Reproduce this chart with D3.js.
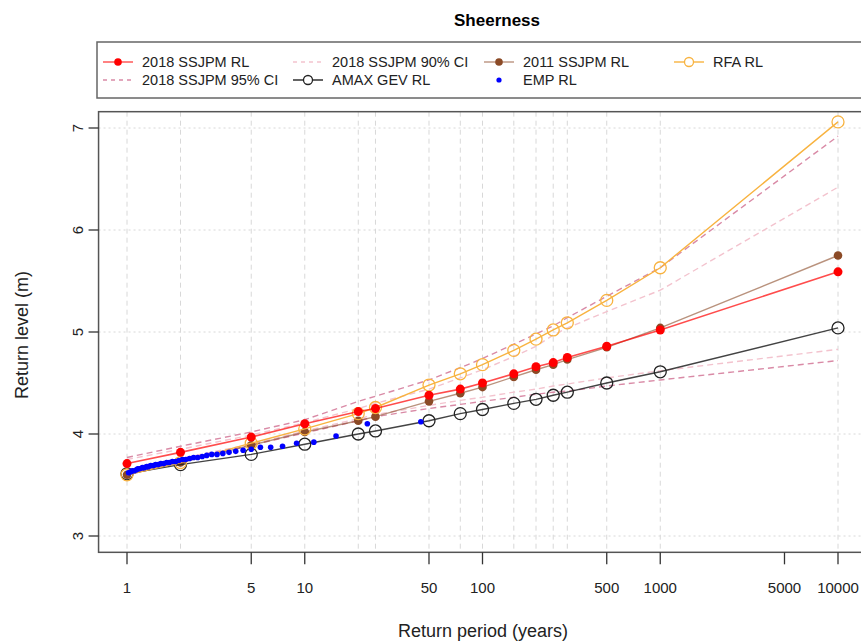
<!DOCTYPE html>
<html>
<head>
<meta charset="utf-8">
<script src="https://cdn.jsdelivr.net/npm/d3@7"></script>
<style>
  body { margin: 0; background: #fff; }
  svg { display: block; font-family: "Liberation Sans", Arial, sans-serif; }
</style>
</head>
<body>
<svg id="chart" width="861" height="641"></svg>
<script>
// return periods (years) shared by the model curves
const periods = [1, 2, 5, 10, 20, 25, 50, 75, 100, 150, 200, 250, 300, 500, 1000, 10000]

const rl2018 = [3.71, 3.82, 3.97, 4.10, 4.22, 4.25, 4.38, 4.44, 4.50, 4.59, 4.66, 4.70, 4.75, 4.86, 5.02, 5.59]
const upper95 = [3.77, 3.88, 4.02, 4.14, 4.32, 4.37, 4.53, 4.65, 4.74, 4.88, 4.98, 5.06, 5.14, 5.35, 5.63, 6.92]
const lower95 = [3.63, 3.74, 3.89, 4.01, 4.13, 4.17, 4.25, 4.29, 4.32, 4.36, 4.39, 4.41, 4.42, 4.47, 4.53, 4.72]
const upper90 = [3.75, 3.85, 3.99, 4.11, 4.25, 4.30, 4.44, 4.55, 4.63, 4.76, 4.86, 4.97, 5.04, 5.20, 5.41, 6.42]
const lower90 = [3.65, 3.76, 3.90, 4.03, 4.15, 4.19, 4.28, 4.33, 4.36, 4.41, 4.44, 4.47, 4.49, 4.55, 4.62, 4.83]
const rl2011 = [3.60, 3.72, 3.89, 4.02, 4.13, 4.17, 4.32, 4.40, 4.46, 4.56, 4.63, 4.68, 4.73, 4.85, 5.04, 5.75]
const amaxGev = [3.61, 3.70, 3.80, 3.90, 4.00, 4.03, 4.13, 4.20, 4.24, 4.30, 4.34, 4.38, 4.41, 4.50, 4.61, 5.04]
const rfa = [3.60, 3.72, 3.91, 4.05, 4.20, 4.26, 4.48, 4.59, 4.68, 4.82, 4.93, 5.02, 5.09, 5.31, 5.63, 7.06]

// empirical annual maxima
const empPeriods = [45, 22.5, 15, 11.25, 9, 7.5, 6.43, 5.63, 5, 4.5, 4.09, 3.75, 3.46, 3.21, 3, 2.81,
  2.65, 2.5, 2.37, 2.25, 2.14, 2.05, 1.96, 1.88, 1.8, 1.73, 1.67, 1.61, 1.55, 1.5, 1.45, 1.41,
  1.36, 1.32, 1.29, 1.25, 1.22, 1.18, 1.15, 1.13, 1.1, 1.07, 1.05, 1.02]
const empLevels = [4.12, 4.10, 3.98, 3.92, 3.91, 3.88, 3.87, 3.87, 3.85, 3.84, 3.83, 3.82, 3.81, 3.80, 3.80, 3.79,
  3.78, 3.77, 3.77, 3.76, 3.75, 3.75, 3.74, 3.73, 3.73, 3.72, 3.72, 3.71, 3.71, 3.70, 3.70, 3.69,
  3.69, 3.68, 3.68, 3.67, 3.67, 3.66, 3.66, 3.65, 3.64, 3.64, 3.63, 3.62]

const xTicks = [1, 5, 10, 50, 100, 500, 1000, 5000, 10000]
const yTicks = [3, 4, 5, 6, 7]

const legendLabels = ['2018 SSJPM RL', '2018 SSJPM 95% CI', '2018 SSJPM 90% CI', 'AMAX GEV RL',
  '2011 SSJPM RL', 'EMP RL', 'RFA RL']

const colors = {
  rl2018: '#ff0000',
  ci95: '#d98aa6',
  ci90: '#f3c3ce',
  rl2011: '#8b4a26',
  amax: '#222',
  rfa: '#f8b340',
  emp: '#0000ff',
}

const svg = d3.select('#chart')

// R-style log axis with 4% padding
const x = d3.scaleLog().domain([1, 10000]).range([127, 838])
const y = d3.scaleLinear().domain([3, 7]).range([536, 128])
const box = {
  left: x(Math.pow(10, -0.16)),
  right: x(Math.pow(10, 4.16)),
  top: y(7.16),
  bottom: y(2.84),
}

svg.append('text').attr('x', 497).attr('y', 26).attr('text-anchor', 'middle')
  .style('font-weight', 'bold').style('font-size', '17px').text('Sheerness')

svg.append('clipPath').attr('id', 'plot-clip').append('rect').attr('x', box.left).attr('y', box.top)
  .attr('width', box.right - box.left).attr('height', box.bottom - box.top)

const plot = svg.append('g').attr('clip-path', 'url(#plot-clip)')

// grid
plot.selectAll('.vgrid').data(periods).join('line').attr('class', 'vgrid')
  .attr('x1', (d) => x(d)).attr('x2', (d) => x(d)).attr('y1', box.top).attr('y2', box.bottom)
  .attr('stroke', '#d8d8d8').attr('stroke-width', 1).attr('stroke-dasharray', '5,4')
plot.selectAll('.hgrid').data(yTicks).join('line').attr('class', 'hgrid')
  .attr('x1', box.left).attr('x2', box.right).attr('y1', (d) => y(d)).attr('y2', (d) => y(d))
  .attr('stroke', '#d8d8d8').attr('stroke-width', 1).attr('stroke-dasharray', '2,3')

const line = d3.line().x((d) => x(d[0])).y((d) => y(d[1]))

const drawLine = (values, color, opts) => {
  opts = opts || {}
  plot.append('path').datum(d3.zip(periods, values)).attr('d', line)
    .attr('fill', 'none').attr('stroke', color).attr('stroke-width', opts.width || 1.4)
    .attr('stroke-opacity', opts.opacity || 1)
    .attr('stroke-dasharray', opts.dash || null)
}

const drawPoints = (xs, values, color, opts) => {
  plot.append('g').selectAll('circle').data(d3.zip(xs, values)).join('circle')
    .attr('cx', (d) => x(d[0])).attr('cy', (d) => y(d[1])).attr('r', opts.r)
    .attr('fill', opts.open ? 'none' : color)
    .attr('stroke', opts.open ? color : 'none').attr('stroke-width', 1.3)
}

drawLine(upper90, colors.ci90, { dash: '6,4' })
drawLine(lower90, colors.ci90, { dash: '6,4' })
drawLine(upper95, colors.ci95, { dash: '6,4' })
drawLine(lower95, colors.ci95, { dash: '6,4' })

drawLine(rl2011, colors.rl2011, { opacity: 0.6 })
drawPoints(periods, rl2011, colors.rl2011, { r: 4.3 })

drawLine(amaxGev, colors.amax, { opacity: 0.85 })
drawPoints(periods, amaxGev, colors.amax, { r: 6, open: true })

drawLine(rfa, colors.rfa)
drawPoints(periods, rfa, colors.rfa, { r: 6, open: true })

drawPoints(empPeriods, empLevels, colors.emp, { r: 2.8 })

drawLine(rl2018, colors.rl2018, { opacity: 0.7, width: 1.6 })
drawPoints(periods, rl2018, colors.rl2018, { r: 4.5 })

// frame
svg.append('rect').attr('x', box.left).attr('y', box.top)
  .attr('width', box.right - box.left).attr('height', box.bottom - box.top)
  .attr('fill', 'none').attr('stroke', '#555').attr('stroke-width', 1.5)

// x axis
const xAxis = svg.append('g')
xAxis.selectAll('line').data(xTicks).join('line')
  .attr('x1', (d) => x(d)).attr('x2', (d) => x(d)).attr('y1', box.bottom).attr('y2', box.bottom + 12)
  .attr('stroke', '#333').attr('stroke-width', 1.3)
xAxis.selectAll('text').data(xTicks).join('text')
  .attr('x', (d) => x(d)).attr('y', 593).attr('text-anchor', 'middle')
  .style('font-size', '15px').attr('fill', '#222').text((d) => d)

// y axis
const yAxis = svg.append('g')
yAxis.selectAll('line').data(yTicks).join('line')
  .attr('x1', box.left - 10).attr('x2', box.left).attr('y1', (d) => y(d)).attr('y2', (d) => y(d))
  .attr('stroke', '#333').attr('stroke-width', 1.3)
yAxis.selectAll('text').data(yTicks).join('text')
  .attr('transform', (d) => `translate(83, ${y(d)}) rotate(-90)`)
  .attr('text-anchor', 'middle').style('font-size', '15px').attr('fill', '#222').text((d) => d)

svg.append('text').attr('x', 483).attr('y', 637).attr('text-anchor', 'middle')
  .style('font-size', '18px').attr('fill', '#222').text('Return period (years)')
svg.append('text').attr('transform', 'translate(28, 335) rotate(-90)').attr('text-anchor', 'middle')
  .style('font-size', '18px').attr('fill', '#222').text('Return level (m)')

// legend, filled column by column like R
const legendG = svg.append('g')
legendG.append('rect').attr('x', 97).attr('y', 42).attr('width', 800).attr('height', 56)
  .attr('fill', '#fff').attr('stroke', '#666').attr('stroke-width', 1.5)

const legendSymbols = [
  { color: colors.rl2018, line: true, point: 'filled', opacity: 0.7 },
  { color: colors.ci95, line: true, dash: '4,4' },
  { color: colors.ci90, line: true, dash: '4,4' },
  { color: colors.amax, line: true, point: 'open' },
  { color: colors.rl2011, line: true, point: 'filled', opacity: 0.6 },
  { color: colors.emp, point: 'filled', small: true },
  { color: colors.rfa, line: true, point: 'open' },
]
const legendCols = [118, 308, 499, 689]
const legendRows = [62, 80]

legendLabels.forEach((label, i) => {
  const cx = legendCols[Math.floor(i / 2)]
  const cy = legendRows[i % 2]
  const s = legendSymbols[i]
  const g = legendG.append('g')

  if (s.line) {
    g.append('line').attr('x1', cx - 15).attr('x2', cx + 15).attr('y1', cy).attr('y2', cy)
      .attr('stroke', s.color).attr('stroke-width', 1.4).attr('stroke-opacity', s.opacity || 1)
      .attr('stroke-dasharray', s.dash || null)
  }
  if (s.point) {
    g.append('circle').attr('cx', cx).attr('cy', cy).attr('r', s.small ? 2.6 : (s.point === 'open' ? 4.5 : 3.8))
      .attr('fill', s.point === 'open' ? '#fff' : s.color)
      .attr('stroke', s.point === 'open' ? s.color : 'none').attr('stroke-width', 1.3)
  }
  g.append('text').attr('x', cx + 24).attr('y', cy).attr('dy', '0.35em')
    .style('font-size', '14.5px').attr('fill', '#222').text(label)
})
</script>
</body>
</html>
